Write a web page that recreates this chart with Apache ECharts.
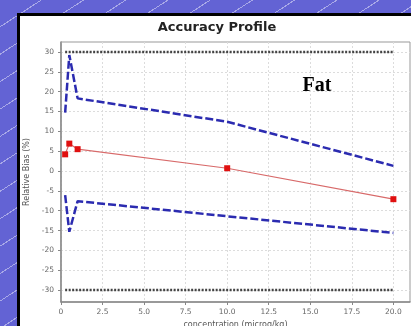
<!DOCTYPE html>
<html>
<head>
<meta charset="utf-8">
<script src="https://cdn.jsdelivr.net/npm/echarts@6/dist/echarts.min.js"></script>
<style>
  html, body { margin: 0; padding: 0; }
  body {
    width: 411px; height: 326px; overflow: hidden;
    background-color: #6363d4;
    background-image: repeating-linear-gradient(147deg, rgba(255,255,255,0) 0px, rgba(255,255,255,0) 22px, rgba(255,255,255,0.45) 22px, rgba(255,255,255,0.45) 23px);
  }
  #chart { width: 411px; height: 326px; }
</style>
</head>
<body>
<div id="chart"></div>
<script>
// ---- data ----
const concentrations = [0.25, 0.5, 1.0, 10.0, 20.0];
const meanBias      = [4.2, 6.9, 5.5, 0.7, -7.1];
const upperLimit    = [14.7, 29.2, 18.3, 12.4, 1.3];
const lowerLimit    = [-6.1, -15.3, -7.6, -11.4, -15.6];
const acceptanceX   = [0.25, 20.0];
const acceptanceUp  = [30, 30];
const acceptanceLow = [-30, -30];

const xTicks      = [0, 2.5, 5, 7.5, 10, 12.5, 15, 17.5, 20];
const xTickLabels = ['0', '2.5', '5.0', '7.5', '10.0', '12.5', '15.0', '17.5', '20.0'];
const yTicks      = [-30, -25, -20, -15, -10, -5, 0, 5, 10, 15, 20, 25, 30];
const yTickLabels = ['-30', '-25', '-20', '-15', '-10', '-5', '0', '5', '10', '15', '20', '25', '30'];

const pairs = (xs, ys) => xs.map((x, i) => [x, ys[i]]);

const chart = echarts.init(document.getElementById('chart'), null, { renderer: 'canvas' });
const labelStyle = { color: '#666', fontSize: 7.5, fontFamily: 'DejaVu Sans' };

chart.setOption({
  backgroundColor: 'transparent',
  animation: false,
  grid: {
    left: 61, top: 42, right: 1, bottom: 24,
    outerBoundsMode: 'none', containLabel: false,
    show: true, backgroundColor: '#fff', borderColor: '#999', borderWidth: 1
  },
  graphic: [
    { type: 'rect', z: -10, silent: true,
      shape: { x: 18.5, y: 14.5, width: 400, height: 320 },
      style: { fill: '#fff', stroke: '#000', lineWidth: 3 } },
    { type: 'text', z: 10, x: 217, y: 28,
      style: { text: 'Accuracy Profile', fill: '#222', font: 'bold 13px "DejaVu Sans"',
               textAlign: 'center', textVerticalAlign: 'middle' } },
    { type: 'text', z: 10, x: 317, y: 86,
      style: { text: 'Fat', fill: '#000', font: 'bold 20px "Liberation Serif"',
               textAlign: 'center', textVerticalAlign: 'middle' } }
  ],
  xAxis: {
    type: 'value', min: 0, max: 21,
    name: 'concentration (microg/kg)', nameLocation: 'middle', nameGap: 15,
    nameTextStyle: { color: '#555', fontSize: 8, fontFamily: 'DejaVu Sans' },
    axisLine: { show: true, onZero: false, lineStyle: { color: '#888', width: 1.5 } },
    axisTick: { show: true, length: 3, customValues: xTicks, lineStyle: { color: '#888' } },
    axisLabel: Object.assign({ margin: 6, customValues: xTicks,
      formatter: v => xTickLabels[xTicks.indexOf(v)] }, labelStyle),
    splitLine: { show: true, lineStyle: { color: '#dcdcdc', type: [2, 2], width: 1 } }
  },
  yAxis: {
    type: 'value', min: -33, max: 32.5,
    name: 'Relative Bias (%)', nameLocation: 'middle', nameGap: 26, nameRotate: 90,
    nameTextStyle: { color: '#555', fontSize: 8, fontFamily: 'DejaVu Sans' },
    axisLine: { show: true, onZero: false, lineStyle: { color: '#888', width: 1.5 } },
    axisTick: { show: true, length: 3, customValues: yTicks, lineStyle: { color: '#888' } },
    axisLabel: Object.assign({ margin: 7, customValues: yTicks,
      formatter: v => yTickLabels[yTicks.indexOf(v)] }, labelStyle),
    splitLine: { show: true, lineStyle: { color: '#dcdcdc', type: [2, 2], width: 1 } }
  },
  series: [
    { type: 'line', name: 'acc+', data: pairs(acceptanceX, acceptanceUp), symbol: 'none',
      lineStyle: { color: '#444', width: 2.5, type: [2, 1.5] } },
    { type: 'line', name: 'acc-', data: pairs(acceptanceX, acceptanceLow), symbol: 'none',
      lineStyle: { color: '#444', width: 2.5, type: [2, 1.5] } },
    { type: 'line', name: 'upper', data: pairs(concentrations, upperLimit), symbol: 'none',
      lineStyle: { color: '#2b2bb0', width: 2.5, type: [8, 3] } },
    { type: 'line', name: 'lower', data: pairs(concentrations, lowerLimit), symbol: 'none',
      lineStyle: { color: '#2b2bb0', width: 2.5, type: [8, 3] } },
    { type: 'line', name: 'bias', data: pairs(concentrations, meanBias),
      symbol: 'rect', symbolSize: 6,
      itemStyle: { color: '#e01010' },
      lineStyle: { color: '#d86a6a', width: 1.2 } }
  ]
});
</script>
</body>
</html>
